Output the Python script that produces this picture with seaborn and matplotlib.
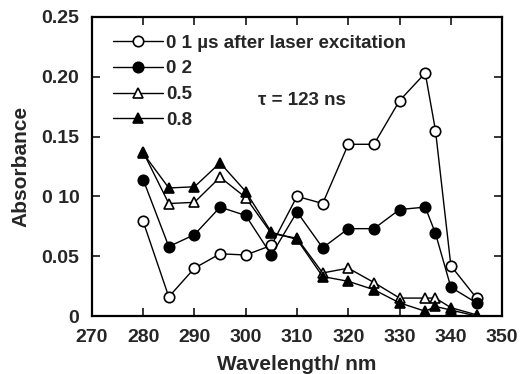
import matplotlib
matplotlib.use("Agg")
import matplotlib.pyplot as plt
import pandas as pd
import seaborn as sns
from matplotlib.legend_handler import HandlerLine2D

wavelength = [280, 285, 290, 295, 300, 305, 310, 315, 320, 325, 330, 335, 337, 340, 345]
abs_01 = [0.079, 0.016, 0.040, 0.052, 0.051, 0.059, 0.100, 0.094, 0.1435, 0.1435, 0.180, 0.203, 0.155, 0.042, 0.015]
abs_02 = [0.114, 0.058, 0.068, 0.091, 0.084, 0.051, 0.087, 0.057, 0.073, 0.073, 0.089, 0.091, 0.069, 0.024, 0.011]
abs_05 = [0.137, 0.094, 0.095, 0.116, 0.099, 0.069, 0.065, 0.036, 0.040, 0.028, 0.015, 0.015, 0.015, 0.007, 0.001]
abs_08 = [0.136, 0.107, 0.108, 0.128, 0.104, 0.070, 0.064, 0.033, 0.029, 0.022, 0.011, 0.004, 0.008, 0.005, 0.000]

labels = ["0 1 \u00b5s after laser excitation", "0 2", "0.5", "0.8"]
x_ticks = [270, 280, 290, 300, 310, 320, 330, 340, 350]
y_ticks = [0, 0.05, 0.10, 0.15, 0.20, 0.25]
y_tick_labels = ["0", "0.05", "0 10", "0.15", "0.20", "0.25"]


class MarkerRightHandler(HandlerLine2D):
    """Legend handle with the marker near the right end of the line."""

    def get_xdata(self, legend, xdescent, ydescent, width, height, fontsize):
        xdata = [-xdescent, -xdescent + width]
        return xdata, [-xdescent + width * 0.88]


sns.set_style("ticks")
plt.rcParams["font.family"] = ["Liberation Sans", "DejaVu Sans"]
plt.rcParams["font.weight"] = "bold"

fig = plt.figure(figsize=(5.22, 3.74), dpi=100)
ax = fig.add_axes([0.176, 0.155, 0.786, 0.800])

series = [abs_01, abs_02, abs_05, abs_08]
markers = ["o", "o", "^", "^"]
faces = ["white", "black", "white", "black"]
for vals, lab, mk, fc in zip(series, labels, markers, faces):
    df = pd.DataFrame({"Wavelength": wavelength, "Absorbance": vals})
    sns.lineplot(
        data=df, x="Wavelength", y="Absorbance", ax=ax, label=lab,
        color="black", linewidth=1.0, marker=mk, markersize=7.5,
        markerfacecolor=fc, markeredgecolor="black", markeredgewidth=1.2,
    )

ax.set_xlim(270, 350)
ax.set_ylim(0, 0.25)
ax.set_xticks(x_ticks)
ax.set_yticks(y_ticks)
ax.set_yticklabels(y_tick_labels)
ax.tick_params(direction="in", length=6, width=1.3, labelsize=14,
               top=True, right=True)
ax.tick_params(axis="x", pad=9)
ax.tick_params(axis="y", pad=9)
for s in ax.spines.values():
    s.set_linewidth(1.6)
    s.set_color("black")

ax.set_xlabel("Wavelength/ nm", fontsize=15, fontweight="bold", labelpad=7)
ax.set_ylabel("Absorbance", fontsize=15, fontweight="bold", labelpad=8)

ax.text(0.405, 0.72, "\u03c4 = 123 ns", transform=ax.transAxes,
        fontsize=13.5, fontweight="bold", va="center", ha="left")

ax.legend(loc="upper left", bbox_to_anchor=(0.032, 0.966), borderaxespad=0,
          frameon=False, fontsize=13.5, handlelength=2.7,
          handletextpad=0.16, labelspacing=0.46,
          handler_map={plt.Line2D: MarkerRightHandler()})

fig.savefig("out.png", dpi=100)
